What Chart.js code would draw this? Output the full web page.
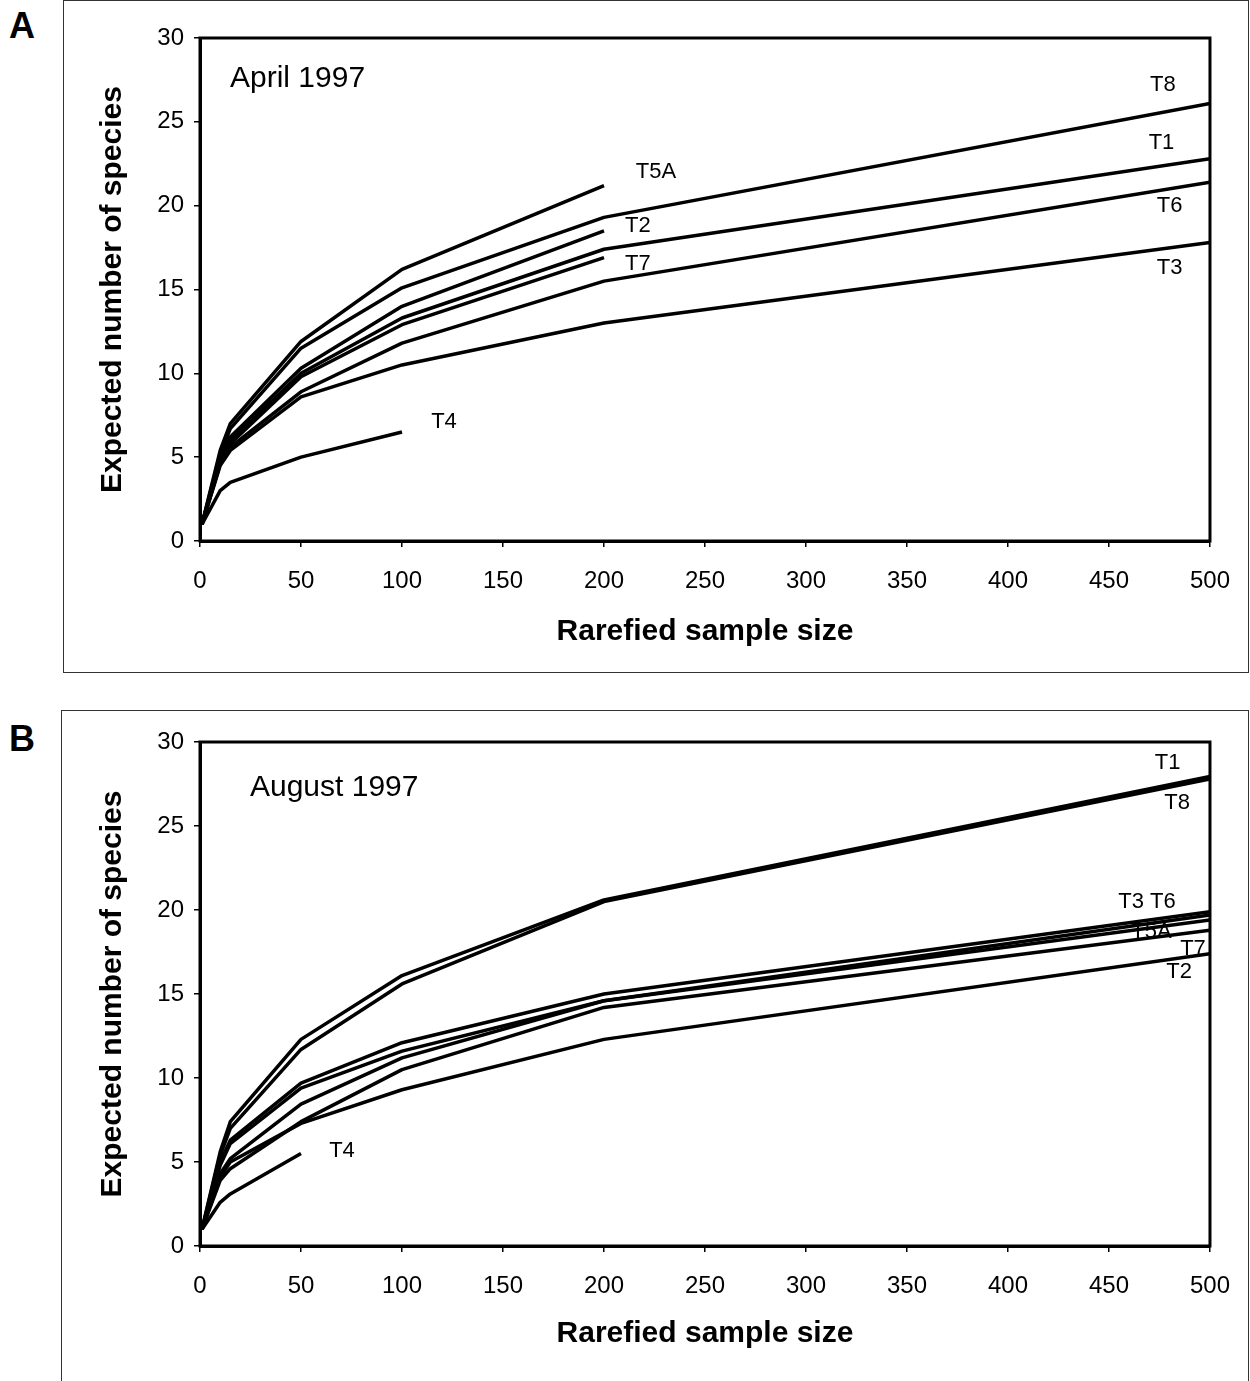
<!DOCTYPE html>
<html>
<head>
<meta charset="utf-8">
<script src="https://cdn.jsdelivr.net/npm/chart.js@4.4.1/dist/chart.umd.min.js"></script>
<style>
  html, body { margin: 0; padding: 0; background: #fff; }
  body { width: 1250px; height: 1381px; position: relative; overflow: hidden;
         font-family: "Liberation Sans", Arial, sans-serif; }
  .frame { position: absolute; border: 1px solid #333; box-sizing: border-box; }
  .tag { position: absolute; font-weight: bold; font-size: 36px; line-height: 1; color: #000; }
  .wrap { position: absolute; left: 0; width: 1250px; }
  canvas { display: block; }
</style>
</head>
<body>
<div class="frame" style="left:63px;top:0;width:1186px;height:673px"></div>
<div class="frame" style="left:61px;top:710px;width:1188px;height:690px"></div>
<div class="tag" style="left:9px;top:8px">A</div>
<div class="tag" style="left:9px;top:721px">B</div>
<div class="wrap" style="top:0;height:690px"><canvas id="chartA" width="1250" height="690"></canvas></div>
<div class="wrap" style="top:690px;height:691px"><canvas id="chartB" width="1250" height="691"></canvas></div>

<script>
// Rarefied sample sizes (x values shared by every curve)
const sampleSizes = [1, 10, 15, 50, 100, 200, 500];
const xTicks = [0, 50, 100, 150, 200, 250, 300, 350, 400, 450, 500];
const yTicks = [0, 5, 10, 15, 20, 25, 30];

// April 1997: expected number of species per transect
const aprT8  = [1, 5.2, 6.7, 11.5, 15.1, 19.3, 26.1];
const aprT1  = [1, 4.9, 6.0, 10.0, 13.3, 17.4, 22.8];
const aprT6  = [1, 4.6, 5.6, 8.9, 11.8, 15.5, 21.4];
const aprT3  = [1, 4.5, 5.4, 8.6, 10.5, 13.0, 17.8];
const aprT5A = [1, 5.4, 7.0, 11.9, 16.2, 21.2];
const aprT2  = [1, 5.0, 6.2, 10.3, 14.0, 18.5];
const aprT7  = [1, 4.7, 5.8, 9.8, 12.9, 16.9];
const aprT4  = [1, 3.0, 3.5, 5.0, 6.5];

// August 1997
const augT1  = [1, 5.6, 7.4, 12.3, 16.1, 20.6, 27.95];
const augT8  = [1, 5.4, 7.0, 11.7, 15.6, 20.5, 27.8];
const augT3  = [1, 5.0, 6.3, 9.7, 12.1, 15.0, 19.9];
const augT6  = [1, 4.8, 6.1, 9.4, 11.6, 14.6, 19.7];
const augT5A = [1, 4.3, 5.2, 8.45, 11.2, 14.6, 19.4];
const augT7  = [1, 3.9, 4.6, 7.4, 10.5, 14.2, 18.8];
const augT2  = [1, 4.1, 5.0, 7.3, 9.3, 12.3, 17.4];
const augT4  = [1, 2.6, 3.1, 5.5];

// Text placed in data coordinates inside each plot
const aprNotes = [
  { text: 'April 1997', x: 14.85, y: 27.6, size: 30, align: 'left' },
  { text: 'T8', x: 476.7, y: 27.2 },
  { text: 'T1', x: 476, y: 23.75 },
  { text: 'T6', x: 480, y: 20.0 },
  { text: 'T3', x: 480, y: 16.3 },
  { text: 'T5A', x: 225.7, y: 22.0 },
  { text: 'T2', x: 216.8, y: 18.8 },
  { text: 'T7', x: 216.8, y: 16.55 },
  { text: 'T4', x: 120.8, y: 7.13 }
];
const augNotes = [
  { text: 'August 1997', x: 24.75, y: 27.26, size: 30, align: 'left' },
  { text: 'T1', x: 479, y: 28.75 },
  { text: 'T8', x: 483.7, y: 26.4 },
  { text: 'T3 T6', x: 468.8, y: 20.5 },
  { text: 'T5A', x: 471, y: 18.7 },
  { text: 'T7', x: 491.6, y: 17.7 },
  { text: 'T2', x: 484.7, y: 16.3 },
  { text: 'T4', x: 70.3, y: 5.65 }
];

const FONT = '"Liberation Sans", Arial, sans-serif';
Chart.defaults.font.family = FONT;
Chart.defaults.color = '#000';

// Writes the transect names and the month caption
const notesPlugin = {
  id: 'notes',
  beforeDatasetsDraw(chart, args, opts) {
    const { ctx, scales: { x, y } } = chart;
    ctx.save();
    ctx.fillStyle = '#000';
    ctx.textBaseline = 'middle';
    for (const n of opts.items || []) {
      ctx.font = `${n.size || 22}px ${FONT}`;
      ctx.textAlign = n.align || 'center';
      ctx.fillText(n.text, x.getPixelForValue(n.x), y.getPixelForValue(n.y));
    }
    ctx.restore();
  }
};

// Heavy box round the plotting area
const framePlugin = {
  id: 'plotFrame',
  afterDraw(chart) {
    const { ctx, chartArea: a } = chart;
    ctx.save();
    ctx.strokeStyle = '#000';
    ctx.lineWidth = 3;
    ctx.strokeRect(a.left, a.top, a.right - a.left, a.bottom - a.top);
    ctx.restore();
  }
};

function toPoints(values) {
  return values.map((v, i) => ({ x: sampleSizes[i], y: v }));
}

function makeChart(canvasId, series, notes, geom) {
  return new Chart(document.getElementById(canvasId), {
    type: 'line',
    data: {
      datasets: series.map(s => ({
        label: s.name,
        data: toPoints(s.values),
        borderColor: '#000',
        borderWidth: 3.5,
        pointRadius: 0,
        tension: 0,
        fill: false,
        borderJoinStyle: 'round'
      }))
    },
    options: {
      responsive: false,
      animation: false,
      events: [],
      layout: { padding: { left: 60, right: 40, top: geom.top, bottom: 0 } },
      plugins: {
        legend: { display: false },
        tooltip: { enabled: false },
        notes: { items: notes }
      },
      scales: {
        x: {
          type: 'linear', min: 0, max: 500,
          afterBuildTicks(scale) { scale.ticks = xTicks.map(v => ({ value: v })); },
          ticks: { color: '#000', font: { size: 24 }, padding: 20, maxRotation: 0, autoSkip: false },
          grid: { drawOnChartArea: false, drawTicks: true, tickLength: 6, color: '#000', lineWidth: 1.5 },
          border: { display: true, color: '#000', width: 3 },
          title: { display: true, text: 'Rarefied sample size', color: '#000',
                   font: { size: 30, weight: 'bold' }, padding: { top: 0, bottom: geom.titlePad } },
          afterFit(scale) { scale.height = geom.xAxisH; }
        },
        y: {
          type: 'linear', min: 0, max: 30,
          afterBuildTicks(scale) { scale.ticks = yTicks.map(v => ({ value: v })); },
          ticks: { color: '#000', font: { size: 24 }, padding: 10 },
          grid: { drawOnChartArea: false, drawTicks: true, tickLength: 6, color: '#000', lineWidth: 1.5 },
          border: { display: true, color: '#000', width: 3 },
          title: { display: true, text: 'Expected number of species', color: '#000',
                   font: { size: 30, weight: 'bold' }, padding: { top: 35, bottom: 0 } },
          afterFit(scale) { scale.width = 140; }
        }
      }
    },
    plugins: [notesPlugin, framePlugin]
  });
}

makeChart('chartA', [
  { name: 'T8', values: aprT8 },
  { name: 'T1', values: aprT1 },
  { name: 'T6', values: aprT6 },
  { name: 'T3', values: aprT3 },
  { name: 'T5A', values: aprT5A },
  { name: 'T2', values: aprT2 },
  { name: 'T7', values: aprT7 },
  { name: 'T4', values: aprT4 }
], aprNotes, { top: 38, xAxisH: 149, titlePad: 40 });

makeChart('chartB', [
  { name: 'T1', values: augT1 },
  { name: 'T8', values: augT8 },
  { name: 'T3', values: augT3 },
  { name: 'T6', values: augT6 },
  { name: 'T5A', values: augT5A },
  { name: 'T7', values: augT7 },
  { name: 'T2', values: augT2 },
  { name: 'T4', values: augT4 }
], augNotes, { top: 52, xAxisH: 135, titlePad: 29 });
</script>
</body>
</html>
